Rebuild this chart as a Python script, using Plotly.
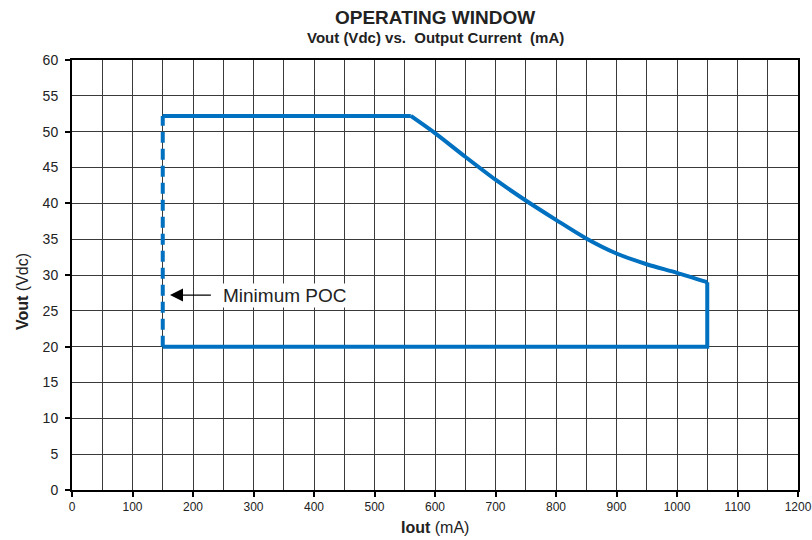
import plotly.graph_objects as go

# Operating window boundary (Iout mA, Vout Vdc)
top_x = [150, 560]
top_y = [52.2, 52.2]
curve_x = [560, 600, 650, 700, 750, 800, 850, 900, 950, 1000, 1050]
curve_y = [52.2, 49.8, 46.5, 43.3, 40.4, 37.7, 35.1, 33.0, 31.5, 30.3, 29.0]
base_x = [1050, 1050, 150]
base_y = [29.0, 20.0, 20.0]
# Minimum POC (dashed)
poc_x = [150, 150]
poc_y = [20.0, 52.2]

x_ticks = [0, 100, 200, 300, 400, 500, 600, 700, 800, 900, 1000, 1100, 1200]
y_ticks = [0, 5, 10, 15, 20, 25, 30, 35, 40, 45, 50, 55, 60]

BLUE = "#0070C0"
GRID = "#3a3a3a"
FONT = "Liberation Sans, Arial, sans-serif"

W, H = 812, 540
L, T, R, B = 72, 60, 14, 50
PX0, PY1 = 72, 490  # plot area left / bottom in screen pixels
PW, PH = 726, 430


def px(xp):
    return (xp - PX0) / PW


def py(yp):
    return (PY1 - yp) / PH


fig = go.Figure()
line = dict(color=BLUE, width=4)
fig.add_trace(go.Scatter(x=top_x, y=top_y, mode="lines", line=line,
                         showlegend=False, hoverinfo="skip"))
fig.add_trace(go.Scatter(x=curve_x, y=curve_y, mode="lines",
                         line=dict(color=BLUE, width=4, shape="spline", smoothing=0.8),
                         showlegend=False, hoverinfo="skip"))
fig.add_trace(go.Scatter(x=base_x, y=base_y, mode="lines", line=line,
                         showlegend=False, hoverinfo="skip"))
fig.add_trace(go.Scatter(x=poc_x, y=poc_y, mode="lines",
                         line=dict(color=BLUE, width=4, dash="11px,6px"),
                         showlegend=False, hoverinfo="skip"))
# invisible trace to anchor the tick-mark axis
fig.add_trace(go.Scatter(x=[0], y=[0], yaxis="y2", mode="markers",
                         marker=dict(opacity=0), showlegend=False, hoverinfo="skip"))

fig.update_layout(
    width=W, height=H,
    margin=dict(l=L, r=R, t=T, b=B),
    paper_bgcolor="white", plot_bgcolor="white",
    font=dict(family=FONT, color="#222", size=13),
    xaxis=dict(range=[0, 1200], tickvals=x_ticks, ticks="outside", ticklen=5,
               tickwidth=1.5, tickcolor="black", automargin=False,
               ticklabeloverflow="allow",
               showgrid=True, gridcolor=GRID, gridwidth=1,
               minor=dict(dtick=50, showgrid=True, gridcolor=GRID, gridwidth=1),
               showline=True, linecolor="black", linewidth=2, mirror=True,
               zeroline=False, tickfont=dict(size=12, color="#222")),
    yaxis=dict(range=[0, 60], tickvals=y_ticks, ticks="outside", ticklen=6,
               tickcolor="rgba(0,0,0,0)", automargin=False, ticklabelstandoff=3,
               showgrid=True, gridcolor=GRID, gridwidth=1,
               showline=True, linecolor="black", linewidth=2, mirror=True,
               zeroline=False, tickfont=dict(size=14, color="#222")),
    yaxis2=dict(range=[0, 60], overlaying="y", side="left", dtick=10,
                ticks="outside", ticklen=6, tickwidth=1.5, tickcolor="black",
                automargin=False,
                showticklabels=False, showgrid=False, zeroline=False,
                showline=False),
    annotations=[
        dict(text="<b>OPERATING WINDOW</b>", xref="paper", yref="paper",
             x=0.5, y=py(18), xanchor="center", yanchor="middle",
             showarrow=False, font=dict(size=19, color="#222")),
        dict(text="<b>Vout (Vdc) vs.  Output Current  (mA)</b>", xref="paper", yref="paper",
             x=0.5, y=py(37), xanchor="center", yanchor="middle",
             showarrow=False, font=dict(size=15, color="#222")),
        dict(text="<b>Iout</b> (mA)", xref="paper", yref="paper",
             x=0.5, y=py(527), xanchor="center", yanchor="middle",
             showarrow=False, font=dict(size=16, color="#222")),
        dict(text="<b>Vout</b> (Vdc)", xref="paper", yref="paper",
             x=px(22), y=py(292), xanchor="center", yanchor="middle",
             textangle=-90, showarrow=False, font=dict(size=16, color="#222")),
        dict(text="Minimum POC", x=246, y=27.2, xref="x", yref="y",
             xanchor="left", yanchor="middle", showarrow=False,
             font=dict(size=19, color="#222"), bgcolor="white"),
        dict(text="", x=162, y=27.2, ax=232, ay=27.2, xref="x", yref="y",
             axref="x", ayref="y", showarrow=True, arrowhead=2, arrowsize=2,
             arrowwidth=1.3, arrowcolor="black", standoff=0),
    ],
)

fig.write_html("out.html",
               config={"displayModeBar": False},
               post_script="document.body.style.margin='0';"
                           "document.body.style.overflow='hidden';")
